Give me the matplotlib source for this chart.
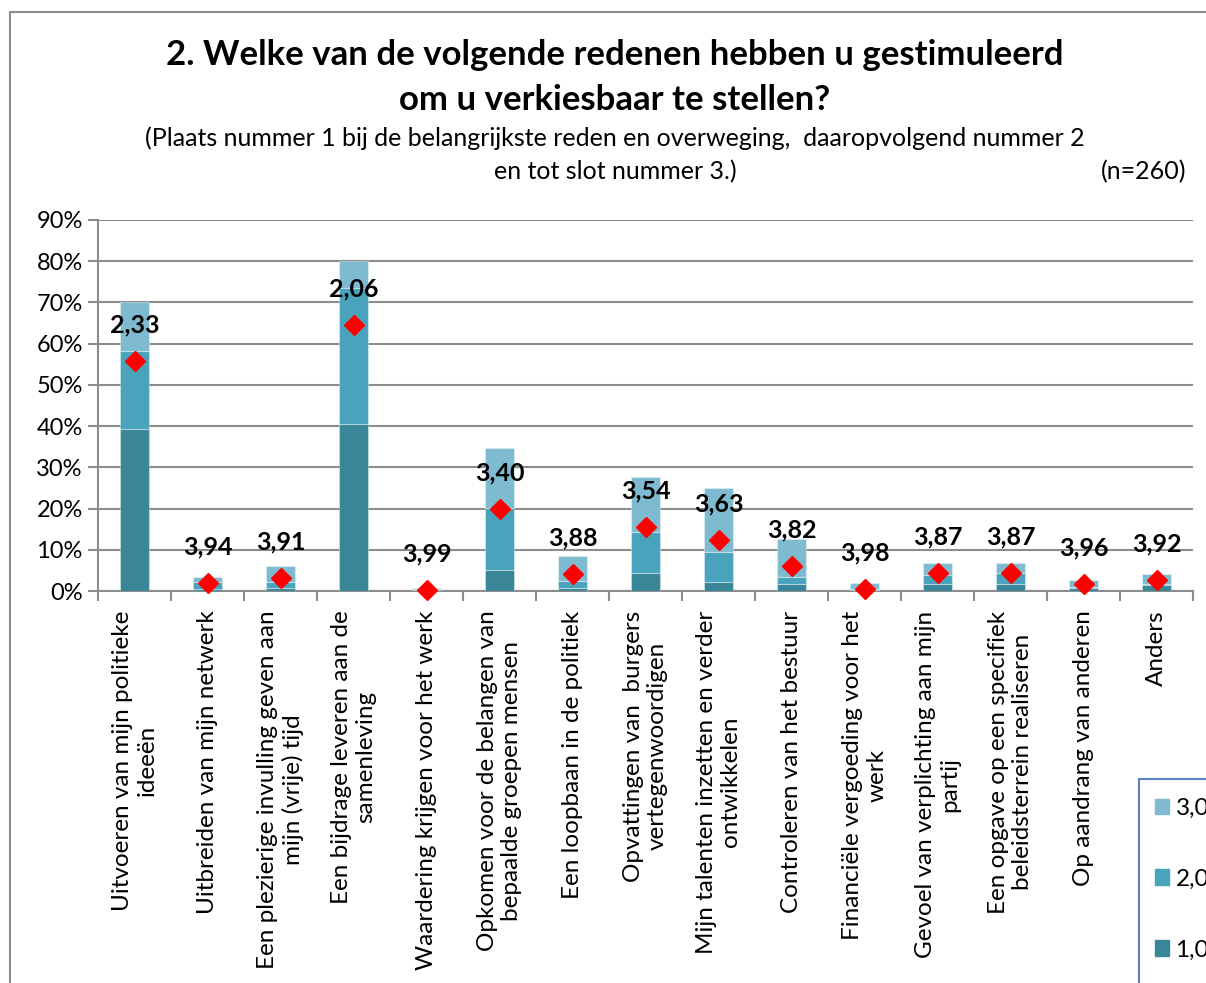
import matplotlib
matplotlib.use("Agg")
import matplotlib.pyplot as plt
from matplotlib.patches import Rectangle, Patch

plt.rcParams['font.family'] = ['Lato', 'DejaVu Sans']

categories = [
    "Uitvoeren van mijn politieke\nideeën",
    "Uitbreiden van mijn netwerk",
    "Een plezierige invulling geven aan\nmijn (vrije) tijd",
    "Een bijdrage leveren aan de\nsamenleving",
    "Waardering krijgen voor het werk",
    "Opkomen voor de belangen van\nbepaalde groepen mensen",
    "Een loopbaan in de politiek",
    "Opvattingen van  burgers\nvertegenwoordigen",
    "Mijn talenten inzetten en verder\nontwikkelen",
    "Controleren van het bestuur",
    "Financiële vergoeding voor het\nwerk",
    "Gevoel van verplichting aan mijn\npartij",
    "Een opgave op een specifiek\nbeleidsterrein realiseren",
    "Op aandrang van anderen",
    "Anders",
]

# percentage of respondents per rank (1, 2, 3)
rank1 = [39.2, 0.4, 0.8, 40.5, 0.2, 5.0, 0.7, 4.3, 2.3, 1.8, 0.2, 1.6, 1.6, 0.7, 1.5]
rank2 = [18.9, 1.9, 1.5, 33.0, 0.2, 15.1, 1.8, 9.9, 7.2, 1.6, 0.2, 2.4, 2.8, 0.3, 0.1]
rank3 = [11.9, 1.0, 3.8, 6.5, 0.25, 14.5, 6.0, 13.5, 15.5, 9.2, 1.5, 2.9, 2.5, 1.7, 2.5]

# red diamond markers and their average score labels
score_pos = [55.8, 1.9, 3.1, 64.6, 0.3, 19.8, 4.1, 15.5, 12.4, 6.1, 0.5, 4.3, 4.4, 1.6, 2.7]
score_lbl = ["2,33", "3,94", "3,91", "2,06", "3,99", "3,40", "3,88", "3,54",
             "3,63", "3,82", "3,98", "3,87", "3,87", "3,96", "3,92"]

legend_labels = ["3,0", "2,0", "1,0"]
c1, c2, c3 = "#3a8699", "#4aa3bc", "#7fbbd0"

W, H = 1206, 983
fig = plt.figure(figsize=(W / 100, H / 100), dpi=100)

# outer chart border (cut off at right / bottom)
fig.patches.append(Rectangle((10 / W, -0.1), 1.2, 1 - 12 / H + 0.1,
                             transform=fig.transFigure, fill=False,
                             edgecolor="#8c8c8c", linewidth=1.5))

ax = fig.add_axes([98 / W, 1 - 591 / H, (1193 - 98) / W, (591 - 220) / H])

x = list(range(len(categories)))
bw = 0.4
b1 = ax.bar(x, rank1, bw, color=c1, zorder=3)
b2 = ax.bar(x, rank2, bw, bottom=rank1, color=c2, zorder=3)
bottom3 = [a + b for a, b in zip(rank1, rank2)]
b3 = ax.bar(x, rank3, bw, bottom=bottom3, color=c3, zorder=3)
for bars in (b1, b2, b3):
    for r in bars:
        r.set_edgecolor((1, 1, 1, 0.35))
        r.set_linewidth(0.8)

ax.plot(x, score_pos, linestyle="none", marker="D", markersize=10,
        color="#ff0000", zorder=5, clip_on=False)
for xi, yi, lbl in zip(x, score_pos, score_lbl):
    ax.annotate(lbl, (xi, yi), xytext=(0, 26), textcoords="offset points",
                ha="center", va="center", fontsize=18, fontweight="bold",
                color="black", zorder=6)

ax.set_xlim(-0.5, len(categories) - 0.5)
ax.set_ylim(0, 90)
ax.set_yticks(range(0, 91, 10))
ax.set_yticklabels([f"{v}%" for v in range(0, 91, 10)], fontsize=17)
ax.yaxis.grid(True, color="#8c8c8c", linewidth=1.5, zorder=0)
ax.set_axisbelow(True)

ax.set_xticks([i - 0.5 for i in range(len(categories) + 1)])
ax.set_xticklabels([])
ax.set_xticks(x, minor=True)
ax.set_xticklabels(categories, minor=True, rotation=90, fontsize=17.5,
                   ha="center", va="top", multialignment="center")
ax.tick_params(axis="x", which="minor", length=0, pad=14)
ax.tick_params(axis="x", which="major", length=7, width=1.5, color="#8c8c8c")
ax.tick_params(axis="y", length=7, width=1.5, color="#8c8c8c", pad=4)

for s in ("top", "right"):
    ax.spines[s].set_visible(False)
for s in ("left", "bottom"):
    ax.spines[s].set_color("#8c8c8c")
    ax.spines[s].set_linewidth(1.5)

fig.text(615 / W, 1 - 55 / H, "2. Welke van de volgende redenen hebben u gestimuleerd",
         ha="center", va="center", fontsize=25, fontweight="bold")
fig.text(615 / W, 1 - 100 / H, "om u verkiesbaar te stellen?",
         ha="center", va="center", fontsize=25, fontweight="bold")
fig.text(615 / W, 1 - 138 / H,
         "(Plaats nummer 1 bij de belangrijkste reden en overweging,  daaropvolgend nummer 2",
         ha="center", va="center", fontsize=18)
fig.text(615 / W, 1 - 172 / H, "en tot slot nummer 3.)",
         ha="center", va="center", fontsize=18)
fig.text(1186 / W, 1 - 172 / H, "(n=260)", ha="right", va="center", fontsize=18)

# legend box runs past the right and bottom edges of the picture
fig.patches.append(Rectangle((1139 / W, -0.1), 0.2, 1 - 779 / H + 0.1,
                             transform=fig.transFigure, facecolor="white",
                             edgecolor="#5b82c9", linewidth=1.5, zorder=4))
handles = [Patch(color=c3), Patch(color=c2), Patch(color=c1)]
leg = fig.legend(handles, legend_labels, loc="upper left",
                 bbox_to_anchor=(1139 / W, 1 - 782 / H), fontsize=17.5,
                 frameon=False, labelspacing=2.05,
                 handlelength=0.6, handleheight=0.6, handletextpad=0.25,
                 borderpad=0.65, borderaxespad=0)
leg.set_zorder(5)

fig.savefig("out.png", dpi=100)
